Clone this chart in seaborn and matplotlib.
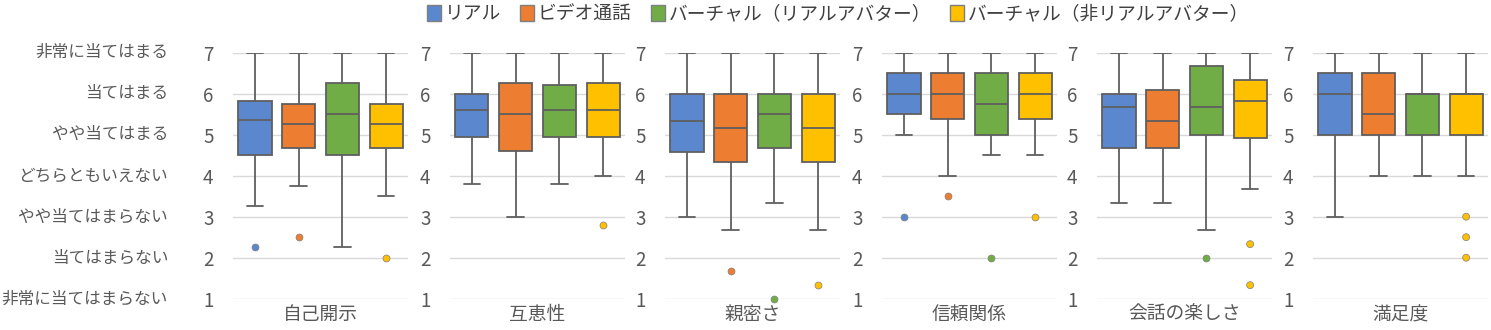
import numpy as np
import pandas as pd
import matplotlib
matplotlib.use("Agg")
import matplotlib.pyplot as plt
from matplotlib.patches import Patch
import seaborn as sns

sns.set_theme(style="white")
plt.rcParams['font.family'] = ['Noto Sans CJK JP', 'DejaVu Sans']

groups = ['リアル', 'ビデオ通話', 'バーチャル（リアルアバター）', 'バーチャル（非リアルアバター）']
colors = ['#5A87CD', '#ED7D31', '#70AD47', '#FFC000']
panels = ['自己開示', '互恵性', '親密さ', '信頼関係', '会話の楽しさ', '満足度']
scale_labels = ['非常に当てはまらない', '当てはまらない', 'やや当てはまらない', 'どちらともいえない',
                'やや当てはまる', '当てはまる', '非常に当てはまる']
scale_ticks = [1, 2, 3, 4, 5, 6, 7]

# five-number summaries per panel (order of groups)
whisker_low = [[3.25, 3.75, 2.25, 3.5],
               [3.8, 3.0, 3.8, 4.0],
               [3.0, 2.67, 3.33, 2.67],
               [5.0, 4.0, 4.5, 4.5],
               [3.33, 3.33, 2.67, 3.67],
               [3.0, 4.0, 4.0, 4.0]]
q1 = [[4.5, 4.67, 4.5, 4.67],
      [4.95, 4.6, 4.95, 4.95],
      [4.58, 4.33, 4.67, 4.33],
      [5.5, 5.375, 5.0, 5.375],
      [4.67, 4.67, 5.0, 4.92],
      [5.0, 5.0, 5.0, 5.0]]
median = [[5.37, 5.25, 5.5, 5.25],
          [5.6, 5.5, 5.6, 5.6],
          [5.33, 5.17, 5.5, 5.17],
          [6.0, 6.0, 5.75, 6.0],
          [5.67, 5.33, 5.67, 5.83],
          [6.0, 5.5, 6.0, 6.0]]
q3 = [[5.82, 5.75, 6.25, 5.75],
      [6.0, 6.25, 6.2, 6.25],
      [6.0, 6.0, 6.0, 6.0],
      [6.5, 6.5, 6.5, 6.5],
      [6.0, 6.08, 6.67, 6.33],
      [6.5, 6.5, 6.0, 6.0]]
whisker_high = [[7, 7, 7, 7]] * 6

outlier_panel = ['自己開示', '自己開示', '自己開示', '互恵性', '親密さ', '親密さ', '親密さ',
                 '信頼関係', '信頼関係', '信頼関係', '信頼関係', '会話の楽しさ', '会話の楽しさ',
                 '会話の楽しさ', '満足度', '満足度', '満足度']
outlier_group = [0, 1, 3, 3, 1, 2, 3, 0, 1, 2, 3, 2, 3, 3, 3, 3, 3]
outlier_value = [2.25, 2.5, 2.0, 2.8, 1.67, 1.0, 1.33, 3.0, 3.5, 2.0, 3.0, 2.0, 2.33, 1.33, 3.0, 2.5, 2.0]

rows = []
for pi, p in enumerate(panels):
    for gi, g in enumerate(groups):
        for v in (whisker_low[pi][gi], q1[pi][gi], median[pi][gi], q3[pi][gi], whisker_high[pi][gi]):
            rows.append({'panel': p, 'group': g, 'value': v})
box_df = pd.DataFrame(rows)
out_df = pd.DataFrame({'panel': outlier_panel,
                       'group': [groups[i] for i in outlier_group],
                       'value': outlier_value})

W, H = 1491, 330
fig = plt.figure(figsize=(W / 100, H / 100), dpi=100)
lefts = [233, 450, 665, 882, 1097, 1313]
pw = 175
bottom = 1 - 298.7 / H
height = (298.7 - 52.7) / H
txt = '#595959'
palette = dict(zip(groups, colors))

for pi, p in enumerate(panels):
    ax = fig.add_axes([lefts[pi] / W, bottom, pw / W, height])
    sub = box_df[box_df.panel == p]
    sns.boxplot(data=sub, x='group', y='value', hue='group', order=groups, hue_order=groups,
                palette=palette, whis=(0, 100), width=0.76, linecolor='#5f5f5f', linewidth=1.3,
                showfliers=False, saturation=1, legend=False, ax=ax)
    n_before = len(ax.collections)
    osub = out_df[out_df.panel == p]
    sns.stripplot(data=osub, x='group', y='value', hue='group', order=groups, hue_order=groups,
                  palette=palette, jitter=False, size=5, linewidth=0.5, edgecolor='#7f7f7f',
                  legend=False, ax=ax, zorder=5)
    for coll in ax.collections[n_before:]:
        if len(coll.get_offsets()) > 0:
            coll.set_clip_on(False)
    ax.set_xlim(-0.5, 3.5)
    ax.set_ylim(1, 7)
    ax.set_yticks(scale_ticks)
    ax.set_xticks([])
    ax.yaxis.grid(True, color='#D9D9D9', linewidth=1)
    ax.set_axisbelow(True)
    for s in ax.spines.values():
        s.set_visible(False)
    ax.tick_params(axis='y', length=0, pad=14, labelsize=13.5, labelcolor=txt)
    ax.set_ylabel('')
    ax.set_xlabel(p, fontsize=13.5, color=txt, labelpad=4)
    if pi == 0:
        for t, lab in zip(scale_ticks, scale_labels):
            ax.text(-0.371, t, lab, transform=ax.get_yaxis_transform(), ha='right', va='center',
                    fontsize=12, color=txt)

handles = [Patch(facecolor=c, edgecolor='#7f7f7f', linewidth=1) for c in colors]
fig.legend(handles, groups, loc='upper center', bbox_to_anchor=(838 / W, 1.04), ncol=4,
           frameon=False, fontsize=13.5, handlelength=0.75, handleheight=0.9, handletextpad=0.2,
           columnspacing=1.0, labelcolor='#404040')

fig.savefig('out.png', dpi=100)
